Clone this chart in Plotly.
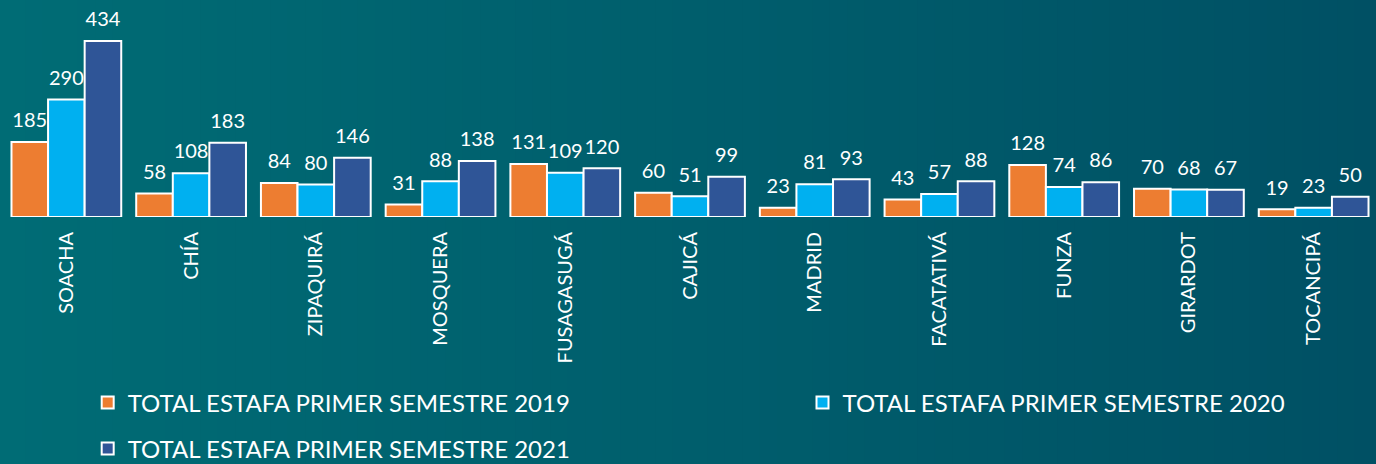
import plotly.graph_objects as go

categories = ["SOACHA", "CHÍA", "ZIPAQUIRÁ", "MOSQUERA", "FUSAGASUGÁ", "CAJICÁ",
              "MADRID", "FACATATIVÁ", "FUNZA", "GIRARDOT", "TOCANCIPÁ"]
v2019 = [185, 58, 84, 31, 131, 60, 23, 43, 128, 70, 19]
v2020 = [290, 108, 80, 88, 109, 51, 81, 57, 74, 68, 23]
v2021 = [434, 183, 146, 138, 120, 99, 93, 88, 86, 67, 50]
names = ["TOTAL ESTAFA PRIMER SEMESTRE 2019",
         "TOTAL ESTAFA PRIMER SEMESTRE 2020",
         "TOTAL ESTAFA PRIMER SEMESTRE 2021"]
colors = ["#ED7D31", "#00B0F0", "#2F5597"]
legends = ["legend", "legend3", "legend2"]
groups = ["g2019", "g2020", "g2021"]

FONT = "Lato, 'Open Sans', sans-serif"

fig = go.Figure()
for vals, name, col, lg, grp in zip([v2019, v2020, v2021], names, colors, legends, groups):
    fig.add_trace(go.Bar(
        x=categories, y=vals, name=name, legend=lg, offsetgroup=grp,
        marker=dict(color=col, line=dict(color="white", width=2)),
    ))
for vals, grp in zip([v2019, v2020, v2021], groups):
    fig.add_trace(go.Scatter(
        x=categories, y=vals, mode="markers+text", offsetgroup=grp,
        text=vals, textposition="top center", showlegend=False,
        hoverinfo="skip", cliponaxis=False,
        marker=dict(size=14, color="rgba(0,0,0,0)"),
        textfont=dict(color="white", size=20, family=FONT),
    ))

# background gradient (left teal -> right darker blue-teal)
shapes = []
n = 80
c0 = (0, 108, 117)
c1 = (0, 80, 100)
for i in range(n):
    t = i / (n - 1)
    c = tuple(round(a + (b - a) * t) for a, b in zip(c0, c1))
    shapes.append(dict(type="rect", xref="paper", yref="paper",
                       x0=-0.01 + i * 1.02 / n, x1=-0.01 + (i + 1.05) * 1.02 / n,
                       y0=-2, y1=1.2, layer="below", line=dict(width=0),
                       fillcolor="rgb(%d,%d,%d)" % c))

leg_common = dict(orientation="h", xanchor="left", yanchor="middle",
                  font=dict(size=24, color="white", family=FONT),
                  bgcolor="rgba(0,0,0,0)", itemwidth=30)

fig.update_layout(
    width=1376, height=464,
    margin=dict(l=4, r=0, t=5, b=247, autoexpand=False),
    paper_bgcolor="rgb(0,95,110)",
    plot_bgcolor="rgba(0,0,0,0)",
    barmode="group", bargap=0.12, bargroupgap=0,
    scattermode="group", scattergap=0.12,
    font=dict(family=FONT, color="white"),
    shapes=shapes,
    showlegend=True,
    legend=dict(x=0.061, y=-0.877, **leg_common),
    legend3=dict(x=0.582, y=-0.877, **leg_common),
    legend2=dict(x=0.061, y=-1.094, **leg_common),
    xaxis=dict(tickangle=-90, showgrid=False, showline=False, zeroline=False,
               ticks="", tickfont=dict(size=20, color="white", family=FONT),
               ticklabelstandoff=10,
               range=[-0.5, 10.5], automargin=False),
    yaxis=dict(visible=False, range=[0, 523], showgrid=False, zeroline=False,
               automargin=False),
)

fig.write_html("out.html", config={"displayModeBar": False},
               post_script="document.body.style.margin='0';document.body.style.overflow='hidden';")
